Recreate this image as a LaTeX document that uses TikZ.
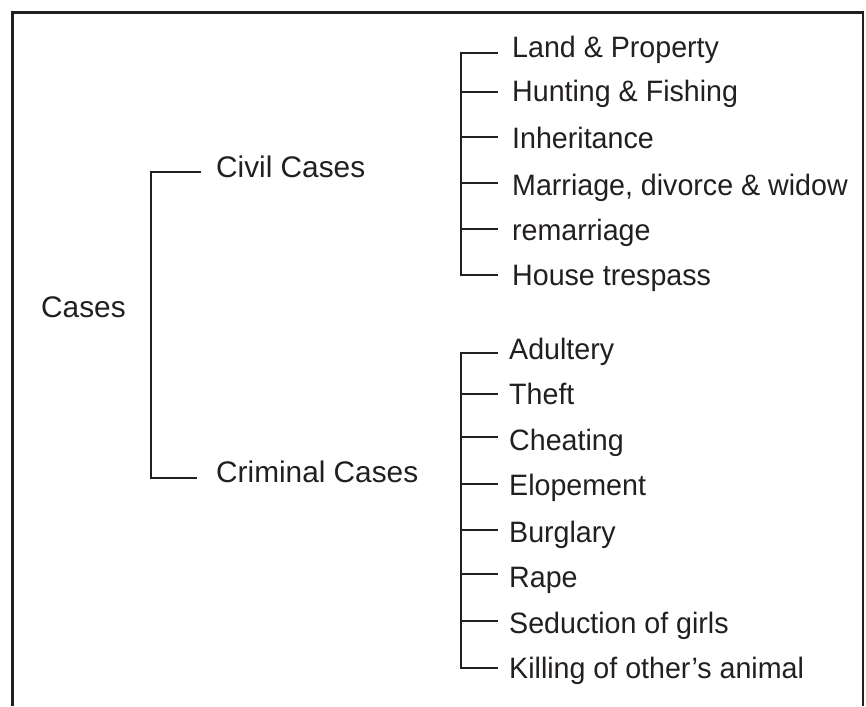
\documentclass[tikz,border=0pt]{standalone}
\usepackage{fontspec}
\setmainfont{Liberation Sans}
\newfontfamily\narrowsans{Liberation Sans}[FakeStretch=0.97]
\definecolor{ink}{HTML}{231F20}
\begin{document}
\begin{tikzpicture}[x=1pt,y=-1pt,
  lbl/.style={anchor=base west,inner sep=0pt,font=\fontsize{29.8}{31}\selectfont,text=ink},
  leaf/.style={anchor=base west,inner sep=0pt,font=\narrowsans\fontsize{29.5}{31}\selectfont,text=ink},
  conn/.style={line width=2pt,draw=ink},
  frameline/.style={line width=2.8pt,draw=ink}]
\useasboundingbox (0,0) rectangle (866,706);
\draw[frameline] (12.5,706) -- (12.5,12.5) -- (863,12.5) -- (863,706);

% level 0 and 1
\node[lbl] (cases) at (41,317) {Cases};
\node[lbl] (civil) at (216,177) {Civil Cases};
\node[lbl] (crim) at (216,482) {Criminal Cases};
\coordinate (civT) at (201,172);
\coordinate (civJ) at (151,172);
\coordinate (crimJ) at (151,478);
\coordinate (crimT) at (197,478);
\draw[conn] (civT) -- (civJ) -- (crimJ) -- (crimT);

% civil children
\foreach \n/\t/\b/\k in {c1/{Land \& Property}/58/53,
                         c2/{Hunting \& Fishing}/102/92,
                         c3/{Inheritance}/148/137,
                         c4/{Marriage, divorce \& widow}/195/183,
                         c5/{remarriage}/240/229,
                         c6/{House trespass}/285/275}{
  \node[leaf] (\n) at (512,\b) {\t};
  \coordinate (\n J) at (461,\k);
  \coordinate (\n T) at (498,\k);
}
\draw[conn] (c1T) -- (c1J) -- (c6J) -- (c6T);
\foreach \n in {c2,c3,c4,c5}{\draw[conn] (\n J) -- (\n T);}

% criminal children
\foreach \n/\t/\b/\k in {k1/{Adultery}/359/353,
                         k2/{Theft}/404/394,
                         k3/{Cheating}/450/437,
                         k4/{Elopement}/495/484,
                         k5/{Burglary}/542/530,
                         k6/{Rape}/587/574,
                         k7/{Seduction of girls}/633/621,
                         k8/{Killing of other’s animal}/678/668}{
  \node[leaf] (\n) at (509,\b) {\t};
  \coordinate (\n J) at (461,\k);
  \coordinate (\n T) at (498,\k);
}
\draw[conn] (k1T) -- (k1J) -- (k8J) -- (k8T);
\foreach \n in {k2,k3,k4,k5,k6,k7}{\draw[conn] (\n J) -- (\n T);}
\end{tikzpicture}
\end{document}
